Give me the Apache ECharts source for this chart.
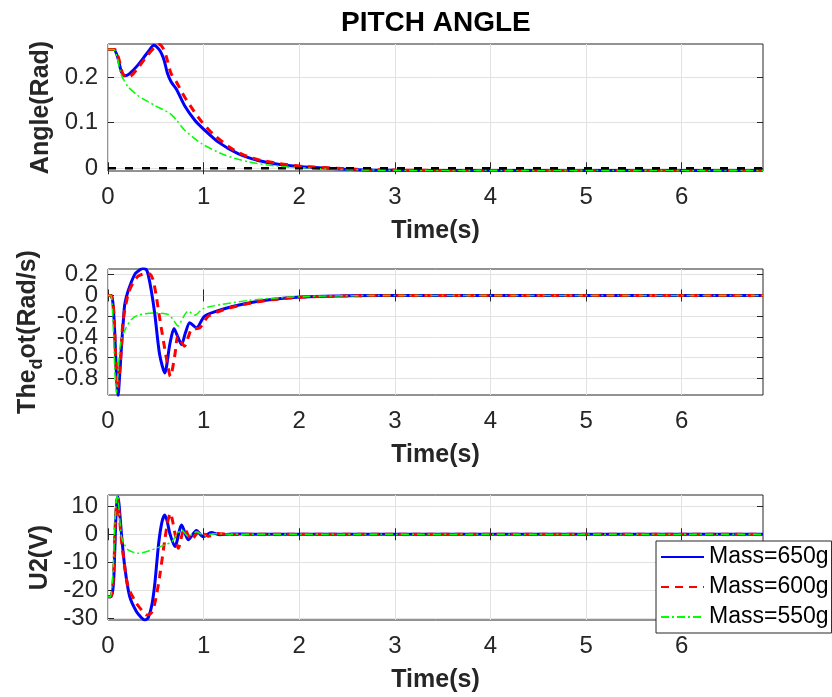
<!DOCTYPE html>
<html>
<head>
<meta charset="utf-8">
<script src="https://cdn.jsdelivr.net/npm/echarts@6/dist/echarts.min.js"></script>
<style>html,body{margin:0;padding:0;background:#fff}#c{width:832px;height:697px}</style>
</head>
<body>
<div id="c"></div>
<script>
// ---------- data ----------
var legendNames = ['Mass=650g', 'Mass=600g', 'Mass=550g'];
var xTicks = [0, 1, 2, 3, 4, 5, 6];
var xMax = 6.85;

// Plot 1: pitch angle (rad)
var angleTicks = [0, 0.1, 0.2];
var tAngle650 = [0, 0.06, 0.1, 0.14, 0.175, 0.22, 0.31, 0.42, 0.48, 0.53, 0.56, 0.59, 0.62, 0.66, 0.72, 0.8, 0.91, 1.01, 1.15, 1.36, 1.57, 1.78, 2.0, 2.3, 2.6, 3.0, 4.0, 5.0, 6.0, 6.85];
var angle650 = [0.261, 0.261, 0.245, 0.212, 0.203, 0.207, 0.226, 0.256, 0.270, 0.262, 0.252, 0.235, 0.21, 0.19, 0.172, 0.138, 0.105, 0.084, 0.058, 0.032, 0.017, 0.009, 0.004, 0.0, -0.003, -0.0045, -0.005, -0.005, -0.005, -0.005];
var tAngle600 = [0, 0.07, 0.11, 0.15, 0.19, 0.24, 0.32, 0.42, 0.5, 0.54, 0.58, 0.61, 0.66, 0.72, 0.8, 0.9, 0.98, 1.1, 1.26, 1.4, 1.57, 1.8, 2.0, 2.3, 2.6, 3.0, 4.0, 5.0, 6.0, 6.85];
var angle600 = [0.261, 0.261, 0.243, 0.21, 0.200, 0.203, 0.222, 0.25, 0.268, 0.272, 0.262, 0.245, 0.208, 0.188, 0.157, 0.125, 0.102, 0.075, 0.048, 0.031, 0.019, 0.010, 0.005, 0.001, -0.002, -0.004, -0.005, -0.005, -0.005, -0.005];
var tAngle550 = [0, 0.06, 0.1, 0.13, 0.16, 0.21, 0.31, 0.49, 0.65, 0.72, 0.8, 0.98, 1.22, 1.47, 1.78, 2.1, 2.5, 3.0, 4.0, 5.0, 6.0, 6.85];
var angle550 = [0.261, 0.261, 0.24, 0.21, 0.196, 0.179, 0.160, 0.138, 0.120, 0.105, 0.084, 0.054, 0.029, 0.014, 0.0045, 0.0, -0.003, -0.0045, -0.005, -0.005, -0.005, -0.005];
var tAngleRef = [0, 6.85];
var angleRef = [0, 0];

// Plot 2: pitch rate (rad/s)
var rateTicks = [-0.8, -0.6, -0.4, -0.2, 0, 0.2];
var tRate650 = [0, 0.03, 0.05, 0.07, 0.09, 0.105, 0.12, 0.14, 0.16, 0.175, 0.21, 0.28, 0.33, 0.367, 0.40, 0.42, 0.454, 0.49, 0.54, 0.594, 0.646, 0.69, 0.73, 0.77, 0.81, 0.855, 0.925, 1.01, 1.19, 1.43, 1.71, 2.02, 2.5, 3.0, 4.0, 5.0, 6.0, 6.85];
var rate650 = [0, 0, -0.06, -0.345, -0.8, -0.97, -0.8, -0.505, -0.25, -0.087, 0.042, 0.203, 0.245, 0.26, 0.25, 0.2, 0.04, -0.184, -0.57, -0.747, -0.473, -0.319, -0.40, -0.473, -0.36, -0.264, -0.312, -0.2, -0.135, -0.08, -0.039, -0.016, -0.004, 0, 0, 0, 0, 0];
var tRate600 = [0, 0.035, 0.06, 0.08, 0.1, 0.12, 0.14, 0.157, 0.21, 0.26, 0.317, 0.40, 0.44, 0.47, 0.5, 0.54, 0.61, 0.653, 0.7, 0.73, 0.77, 0.80, 0.84, 0.873, 0.96, 1.05, 1.2, 1.43, 1.71, 2.02, 2.5, 3.0, 4.0, 5.0, 6.0, 6.85];
var rate600 = [0, 0, -0.15, -0.6, -0.9, -0.75, -0.5, -0.248, 0.01, 0.12, 0.187, 0.21, 0.205, 0.155, 0.02, -0.216, -0.6, -0.78, -0.57, -0.39, -0.45, -0.49, -0.4, -0.328, -0.312, -0.2, -0.14, -0.085, -0.042, -0.018, -0.005, 0, 0, 0, 0, 0];
var tRate550 = [0, 0.03, 0.05, 0.07, 0.088, 0.105, 0.12, 0.14, 0.19, 0.245, 0.314, 0.49, 0.63, 0.68, 0.733, 0.78, 0.838, 0.908, 0.995, 1.19, 1.47, 1.78, 2.1, 2.5, 3.0, 4.0, 5.0, 6.0, 6.85];
var rate550 = [0, 0, -0.2, -0.7, -0.94, -0.75, -0.55, -0.42, -0.31, -0.232, -0.19, -0.168, -0.184, -0.23, -0.296, -0.22, -0.151, -0.19, -0.126, -0.087, -0.048, -0.023, -0.01, -0.003, 0, 0, 0, 0, 0];

// Plot 3: control voltage U2 (V)
var voltTicks = [-30, -20, -10, 0, 10];
var tVolt650 = [0, 0.03, 0.05, 0.063, 0.08, 0.095, 0.105, 0.12, 0.14, 0.175, 0.227, 0.297, 0.35, 0.384, 0.42, 0.46, 0.49, 0.53, 0.565, 0.594, 0.62, 0.646, 0.70, 0.77, 0.84, 0.925, 0.995, 1.08, 1.17, 1.3, 1.5, 2.0, 3.0, 4.0, 5.0, 6.0, 6.85];
var volt650 = [-22.3, -22.3, -20, -13.9, 3.9, 12.5, 13.4, 9, 0.36, -11.6, -22.3, -27.6, -29.8, -30.6, -29.8, -25, -17.5, -3.2, 4.5, 6.9, 4.5, 0.36, -4.4, 3.3, -2.0, 1.3, -0.85, 0.6, -0.2, 0.1, 0, 0, 0, 0, 0, 0, 0];
var tVolt600 = [0, 0.03, 0.045, 0.06, 0.075, 0.09, 0.1, 0.115, 0.135, 0.157, 0.21, 0.297, 0.35, 0.40, 0.44, 0.47, 0.5, 0.54, 0.594, 0.625, 0.653, 0.68, 0.70, 0.735, 0.80, 0.87, 0.96, 1.05, 1.15, 1.3, 1.5, 2.0, 3.0, 4.0, 5.0, 6.0, 6.85];
var volt600 = [-22.3, -22.3, -20, -14, 3, 11, 12.8, 8, 0, -6.8, -18.7, -24.6, -27, -28.8, -28.5, -27, -23, -15.1, -2, 4.5, 7.5, 4, 0.36, -5, 2.1, -2, 1.1, -0.7, 0.3, -0.1, 0, 0, 0, 0, 0, 0, 0];
var tVolt550 = [0, 0.025, 0.04, 0.055, 0.07, 0.085, 0.1, 0.115, 0.14, 0.17, 0.21, 0.314, 0.454, 0.594, 0.67, 0.72, 0.77, 0.84, 0.925, 1.01, 1.1, 1.3, 2.0, 3.0, 4.0, 5.0, 6.0, 6.85];
var volt550 = [-22.3, -22.3, -19, -12, 2, 11, 14, 9, -0.85, -3.5, -5.6, -6.8, -5.6, -3.8, -2.6, 0, 1.5, -0.8, 0.9, -0.5, 0.2, 0, 0, 0, 0, 0, 0, 0];

// ---------- chart ----------
var FONT = '"Liberation Sans", Arial, Helvetica, sans-serif';
var AX = '#262626';
function zip(t, v) { return t.map(function (x, i) { return [x, v[i]]; }); }
function everyOther(arr, start) { return arr.filter(function (_, i) { return i % 2 === start; }); }

var grids = [
  { left: 108, top: 44, width: 655, height: 127 },
  { left: 108, top: 269, width: 655, height: 126 },
  { left: 108, top: 495, width: 655, height: 125 }
].map(function (g) {
  return Object.assign({ show: true, borderColor: AX, borderWidth: 1, backgroundColor: 'transparent' }, g);
});

var yRanges = [
  { min: -0.006, max: 0.273, ticks: angleTicks },
  { min: -0.96, max: 0.255, ticks: rateTicks },
  { min: -30.6, max: 14, ticks: voltTicks }
];
var yNames = [
  { name: 'Angle(Rad)', gap: 47 },
  { name: '{m|The}{s|d}{m|ot(Rad/s)}', gap: 62 },
  { name: 'U2(V)', gap: 47 }
];

function fmt(v) { return String(Math.round(v * 1000) / 1000); }

var xAxes = [], yAxes = [];
for (var i = 0; i < 3; i++) {
  var tickCommon = { show: true, inside: true, length: 6, customValues: xTicks, lineStyle: { color: AX, width: 1 } };
  xAxes.push({
    gridIndex: i, type: 'value', min: 0, max: xMax, position: 'bottom',
    axisLine: { show: false },
    axisTick: tickCommon,
    axisLabel: { customValues: xTicks, fontSize: 24, color: AX, margin: 14, fontFamily: FONT,
      hideOverlap: false, showMinLabel: true, showMaxLabel: true },
    splitLine: { show: true, lineStyle: { color: '#e2e2e2', width: 1 } },
    name: 'Time(s)', nameLocation: 'middle', nameGap: 48,
    nameTextStyle: { fontSize: 25, fontWeight: 'bold', color: AX, fontFamily: FONT }
  });
  xAxes.push({
    gridIndex: i, type: 'value', min: 0, max: xMax, position: 'top',
    axisLine: { show: false }, axisTick: tickCommon,
    axisLabel: { show: false }, splitLine: { show: false }
  });
  var r = yRanges[i];
  // two overlaid left axes (alternating ticks) so that closely spaced labels are all kept
  for (var part = 0; part < 2; part++) {
    var vals = everyOther(r.ticks, part);
    var ax = {
      gridIndex: i, type: 'value', min: r.min, max: r.max, position: 'left', offset: 0,
      axisLine: { show: false },
      axisTick: { show: true, inside: true, length: 6, customValues: vals, lineStyle: { color: AX, width: 1 } },
      axisLabel: { customValues: vals, fontSize: 24, color: AX, margin: 10, fontFamily: FONT,
        hideOverlap: false, showMinLabel: true, showMaxLabel: true, formatter: fmt },
      splitLine: { show: true, lineStyle: { color: '#e2e2e2', width: 1 } }
    };
    if (part === 0) {
      Object.assign(ax, {
        name: yNames[i].name, nameLocation: 'middle', nameGap: yNames[i].gap, nameRotate: 90,
        nameTextStyle: {
          fontSize: 25, fontWeight: 'bold', color: AX, fontFamily: FONT,
          rich: {
            m: { fontSize: 25, fontWeight: 'bold', color: AX, fontFamily: FONT, lineHeight: 25, verticalAlign: 'top' },
            s: { fontSize: 18, fontWeight: 'bold', color: AX, fontFamily: FONT, lineHeight: 25, verticalAlign: 'top', padding: [12, 0, 0, 0] }
          }
        }
      });
    }
    yAxes.push(ax);
  }
  yAxes.push({
    gridIndex: i, type: 'value', min: r.min, max: r.max, position: 'right',
    axisLine: { show: false },
    axisTick: { show: true, inside: true, length: 6, customValues: r.ticks, lineStyle: { color: AX, width: 1 } },
    axisLabel: { show: false }, splitLine: { show: false }
  });
}

var styles = [
  { color: '#0000ff', width: 3, type: 'solid' },
  { color: '#ff0000', width: 3, type: [8, 6] },
  { color: '#00ff00', width: 1.5, type: [8, 3, 2, 3] }
];
var dataSets = [
  [zip(tAngle650, angle650), zip(tAngle600, angle600), zip(tAngle550, angle550)],
  [zip(tRate650, rate650), zip(tRate600, rate600), zip(tRate550, rate550)],
  [zip(tVolt650, volt650), zip(tVolt600, volt600), zip(tVolt550, volt550)]
];

var series = [];
for (var g = 0; g < 3; g++) {
  for (var k = 0; k < 3; k++) {
    series.push({
      type: 'line', name: legendNames[k], xAxisIndex: g * 2, yAxisIndex: g * 3,
      data: dataSets[g][k], symbol: 'none', smooth: 0.25, clip: true,
      lineStyle: styles[k], itemStyle: { color: styles[k].color }, z: 3 + k
    });
  }
}
series.push({
  type: 'line', name: 'ref', xAxisIndex: 0, yAxisIndex: 0, data: zip(tAngleRef, angleRef),
  symbol: 'none', lineStyle: { color: '#000', width: 2.5, type: [8, 9] }, z: 7
});

var chart = echarts.init(document.getElementById('c'), null, { renderer: 'canvas' });
chart.setOption({
  animation: false,
  backgroundColor: '#fff',
  textStyle: { fontFamily: FONT },
  title: { text: 'PITCH ANGLE', left: 341, top: 9, padding: 0,
    textStyle: { fontSize: 28, fontWeight: 'bold', color: '#000', fontFamily: FONT } },
  legend: {
    data: legendNames, orient: 'vertical', left: 656, top: 541, padding: [3, 3, 3, 4],
    itemWidth: 43, itemHeight: 14, itemGap: 4, selectedMode: false,
    backgroundColor: '#fff', borderColor: AX, borderWidth: 1,
    itemStyle: { opacity: 0, borderWidth: 0 },
    textStyle: { fontSize: 23, lineHeight: 26, color: '#000', fontFamily: FONT }
  },
  grid: grids,
  xAxis: xAxes,
  yAxis: yAxes,
  series: series
});
</script>
</body>
</html>
